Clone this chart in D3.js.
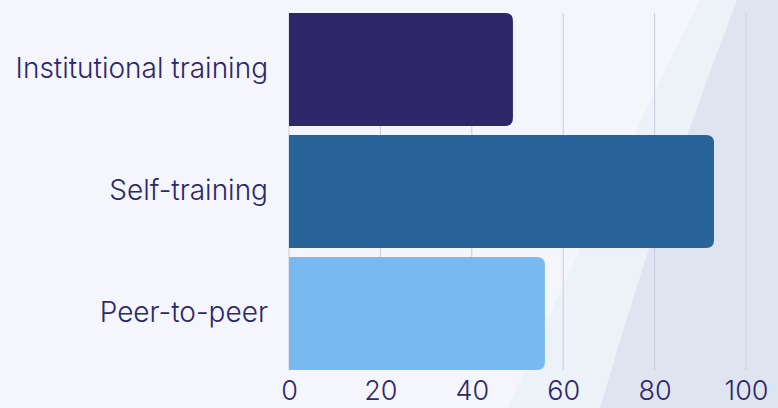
<!DOCTYPE html>
<html><head><meta charset="utf-8">
<script src="https://cdn.jsdelivr.net/npm/d3@7"></script>
<style>html,body{margin:0;padding:0;background:#f4f6fb;overflow:hidden}</style>
</head><body><svg id="c" width="778" height="408"></svg>
<script>
const categories = ["Institutional training", "Self-training", "Peer-to-peer"];
const values = [49, 93, 56];
const colors = ["#2e276a", "#286399", "#78b9f1"];
const ticks = [0, 20, 40, 60, 80, 100];

const W = 778, H = 408;
const svg = d3.select("#c");
svg.append("rect").attr("width", W).attr("height", H).attr("fill", "#f4f6fb");
// decorative background shapes
svg.append("path").attr("d", "M700,0 L737,0 Q660,200 600,408 L508,408 Q600,200 700,0 Z").attr("fill", "#edf1f8");
svg.append("path").attr("d", "M737,0 L778,0 L778,408 L600,408 Q660,200 737,0 Z").attr("fill", "#dfe5f0");

const x = d3.scaleLinear().domain([0, 100]).range([289, 746]);
const y = d3.scaleBand().domain(categories).range([13, 370]).paddingInner(0.074).paddingOuter(0);

// gridlines
svg.append("g").selectAll("line").data(ticks).join("line")
  .attr("x1", d => x(d)).attr("x2", d => x(d))
  .attr("y1", 13).attr("y2", 370)
  .attr("stroke", "#c9cce0").attr("stroke-width", 1);

// bars with rounded right corners
const r = 8;
svg.append("g").selectAll("path").data(values).join("path")
  .attr("fill", (d, i) => colors[i])
  .attr("d", (d, i) => {
    const x0 = x(0), x1 = x(d), y0 = y(categories[i]), h = y.bandwidth();
    return `M${x0},${y0} H${x1 - r} Q${x1},${y0} ${x1},${y0 + r} V${y0 + h - r} Q${x1},${y0 + h} ${x1 - r},${y0 + h} H${x0} Z`;
  });

const font = "Inter, 'Noto Sans', sans-serif";
// y axis labels
const ya = svg.append("g").attr("transform", "translate(268,0)").call(d3.axisLeft(y).tickSize(0).tickPadding(0));
ya.select(".domain").remove();
ya.selectAll("text").attr("font-family", font).attr("font-size", 28).attr("font-weight", 300).attr("fill", "#2e276a");

// x axis labels
const xa = svg.append("g").attr("transform", "translate(0,381)").call(d3.axisBottom(x).tickValues(ticks).tickSize(0).tickPadding(0));
xa.select(".domain").remove();
xa.selectAll("text").attr("font-family", font).attr("font-size", 27).attr("font-weight", 300).attr("fill", "#2e276a");
</script></body></html>
